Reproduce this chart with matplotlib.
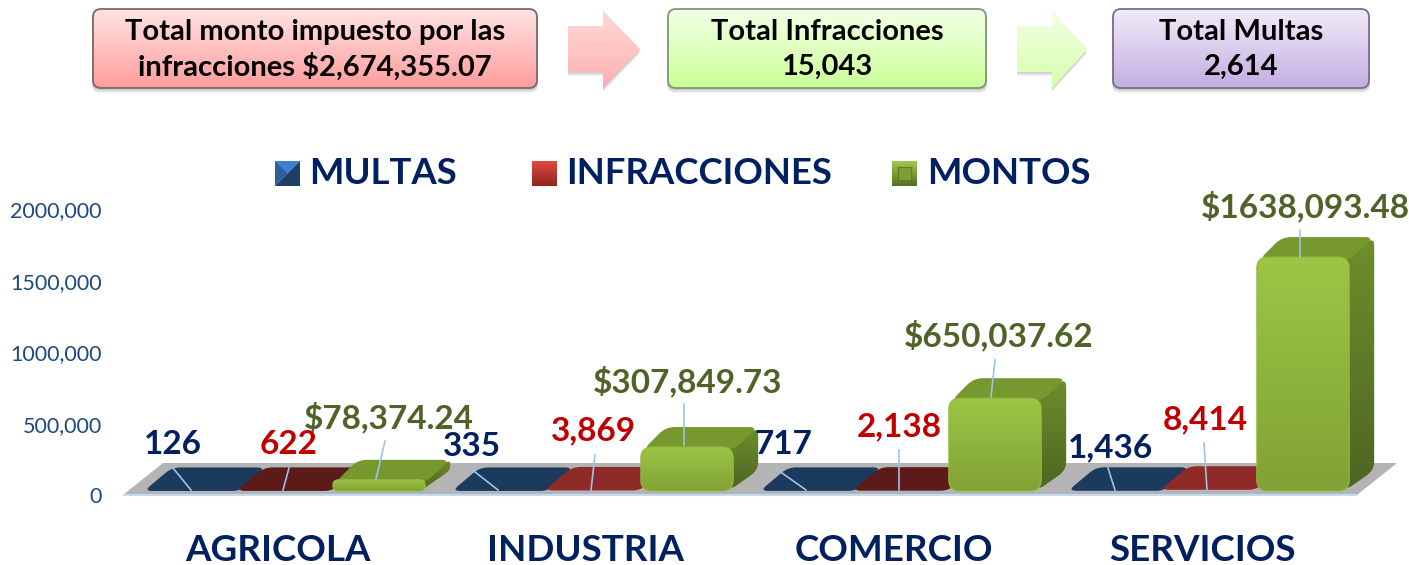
import numpy as np
import matplotlib
matplotlib.use('Agg')
from matplotlib import pyplot as plt
from matplotlib.colors import LinearSegmentedColormap
from matplotlib.patches import FancyBboxPatch, Polygon, PathPatch
from matplotlib.path import Path
from matplotlib.transforms import ScaledTranslation

# datos
categorias = ['AGRICOLA', 'INDUSTRIA', 'COMERCIO', 'SERVICIOS']
multas = [126, 335, 717, 1436]
infracciones = [622, 3869, 2138, 8414]
montos = [78374.24, 307849.73, 650037.62, 1638093.48]
montos_txt = ['$78,374.24', '$307,849.73', '$650,037.62', '$1638,093.48']
series = ['MULTAS', 'INFRACCIONES', 'MONTOS']
y_ticks = [0, 500000, 1000000, 1500000, 2000000]
y_labels = ['0', '500,000', '1000,000', '1500,000', '2000,000']

plt.rcParams['font.family'] = ['Lato', 'DejaVu Sans']

W = 1409; H = 565
AZUL = '#002060'; ROJO = '#c00000'; VERDE = '#4f6228'
rojos_top = ['#5c1a18', '#8e2a28', '#5c1a18', '#8e2a28']

fig = plt.figure(figsize=(W/100, H/100), dpi=100)

# eje del grafico: 308 px por grupo, 71.4 px por 500 mil
px_x = 308.0
px_y = 71.4/500000
x_cero = 286.6
y_cero = 491
ax_l = 120; ax_r = 1405; ax_t = 200; ax_b = 500
ax = fig.add_axes([ax_l/W, (H-ax_b)/H, (ax_r-ax_l)/W, (ax_b-ax_t)/H])
ax.set_xlim((ax_l-x_cero)/px_x, (ax_r-x_cero)/px_x)
ax.set_ylim((y_cero-ax_b)/px_y, (y_cero-ax_t)/px_y)
ax.patch.set_alpha(0)
for s in ax.spines.values():
    s.set_visible(False)
ax.tick_params(length=0)
ax.set_yticks(y_ticks)
ax.set_yticklabels(y_labels, fontsize=15.5, color='#1f497d')
ax.tick_params(axis='y', pad=13)
for lab in ax.get_yticklabels():
    lab.set_transform(lab.get_transform() + ScaledTranslation(0, -4/100, fig.dpi_scale_trans))
ax.set_xticks([i-0.028 for i in range(4)])
ax.set_xticklabels(categorias, fontsize=26.5, fontweight='bold', color=AZUL)
ax.tick_params(axis='x', pad=24.5)
limx = ax.get_xlim(); limy = ax.get_ylim()


def degradado(a, extent, c1, c2, clip, z):
    cm = LinearSegmentedColormap.from_list('g', [c1, c2])
    im = a.imshow(np.linspace(0, 1, 64).reshape(-1, 1), cmap=cm, extent=extent, origin='upper',
                  aspect='auto', zorder=z, interpolation='bilinear')
    im.set_clip_path(clip)


def dx(p):
    return p/px_x


def dy(p):
    return p/px_y


def redondeado(pts, r):
    # poligono con esquinas curvas, r en pixeles
    p = np.array(pts, dtype=float)*[px_x, px_y]
    n = len(p)
    v = []; c = []
    for i in range(n):
        a = p[i-1]; b = p[i]; d = p[(i+1) % n]
        l1 = np.linalg.norm(a-b); l2 = np.linalg.norm(d-b)
        q = min(r, l1/2, l2/2)
        p1 = b+(a-b)/max(l1, 1e-6)*q
        p2 = b+(d-b)/max(l2, 1e-6)*q
        v += [p1, b, p2]
        c += [Path.MOVETO if i == 0 else Path.LINETO, Path.CURVE3, Path.CURVE3]
    v.append(v[0]); c.append(Path.CLOSEPOLY)
    return Path(np.array(v)/[px_x, px_y], c)


# piso gris
ax.add_patch(Polygon([(dx(123-x_cero), dy(-4)), (dx(163-x_cero), dy(28)), (dx(1397-x_cero), dy(28)), (dx(1357-x_cero), dy(-4))],
                     closed=True, fc='#b4b4b4', ec='none', zorder=1))
ax.plot([dx(123-x_cero), dx(1357-x_cero)], [dy(-4), dy(-4)], color='#c5d9f1', lw=1.5, zorder=1, solid_capstyle='butt')

ancho = 92.4/px_x
prof_x = dx(25)
prof_y = dy(21)


def barra_plana(x, h, color, z):
    # barras casi sin altura: solo se ve la cara de arriba
    pts = [(x-dx(4), h), (x+prof_x-dx(1), h+dy(23.5)), (x+ancho+prof_x, h+dy(23.5)), (x+ancho, h)]
    ax.add_patch(PathPatch(redondeado(pts, 8), fc=color, ec='none', zorder=z))


def barra_verde(x, h, z):
    h_px = h*px_y
    r = min(11, h_px/2)
    # lateral
    lat = PathPatch(redondeado([(x+ancho-dx(5), dy(0)), (x+ancho+prof_x, prof_y),
                                (x+ancho+prof_x, h+prof_y-dy(1)), (x+ancho-dx(5), h-dy(1))], 9),
                    fc='#5f7d2a', ec='none', zorder=z)
    ax.add_patch(lat)
    degradado(ax, (x+ancho-dx(8), x+ancho+prof_x, 0, h+prof_y), '#6f8e2c', '#4d6521', lat, z+0.1)
    # tapa
    top = PathPatch(redondeado([(x+dx(2), h-dy(3)), (x+prof_x, h+prof_y-dy(1)),
                                (x+ancho+prof_x, h+prof_y-dy(1)), (x+ancho, h-dy(3))], 9),
                    fc='#77982f', ec='none', zorder=z+0.2)
    ax.add_patch(top)
    # frente
    fr = FancyBboxPatch((x, 0), ancho, h, boxstyle='round,pad=0,rounding_size=%f' % dx(r),
                        mutation_aspect=px_x/px_y, fc='none', ec='#93bb3f', lw=0.8, zorder=z+0.5)
    ax.add_patch(fr)
    degradado(ax, (x, x+ancho, 0, h), '#9cc645', '#81a235', fr, z+0.4)


off = [0, ancho, 2*ancho]
for i in range(4):
    x0 = i-1.5*ancho
    barra_plana(x0+off[0], multas[i], '#1c3a5e', 3+i)
    barra_plana(x0+off[1], infracciones[i], rojos_top[i], 3.2+i)
    barra_verde(x0+off[2], montos[i], 3.4+i)
ax.set_xlim(limx); ax.set_ylim(limy)

# capa en pixeles para cuadros, leyenda y etiquetas
ov = fig.add_axes([0, 0, 1, 1], zorder=5)
ov.set_xlim(0, W); ov.set_ylim(H, 0)
ov.axis('off')
ov.patch.set_alpha(0)


def cuadro(x0, x1, y0, y1, c1, c2, borde):
    for k in range(1, 6):
        ov.add_patch(FancyBboxPatch((x0-1, y0+k), x1-x0+2, y1-y0, boxstyle='round,pad=0,rounding_size=8',
                                    fc='black', ec='none', alpha=0.05, zorder=1))
    b = FancyBboxPatch((x0, y0), x1-x0, y1-y0, boxstyle='round,pad=0,rounding_size=8', fc=c2, ec=borde, lw=1.3, zorder=3)
    ov.add_patch(b)
    degradado(ov, (x0, x1, y1, y0), c1, c2, b, 2)
    b.set_facecolor('none')


def flecha(x0, x1, xm, y0, y1, s0, s1, c1, c2):
    pts = [(x0, s0), (xm, s0), (xm, y0), (x1, (y0+y1)/2), (xm, y1), (xm, s1), (x0, s1)]
    for k in range(1, 5):
        ov.add_patch(Polygon([(a, b+k) for a, b in pts], closed=True, fc='black', ec='none', alpha=0.05, zorder=1))
    p = Polygon(pts, closed=True, fc=c2, ec='none', zorder=2)
    ov.add_patch(p)
    degradado(ov, (x0, x1, y1, y0), c1, c2, p, 2.1)


cuadro(93, 537, 9, 88, '#ffe3e3', '#ff9d9d', '#7a6a6a')
cuadro(668, 986, 9, 88, '#f2ffe6', '#ccff99', '#7f9a70')
cuadro(1113, 1369, 9, 88, '#f1ebf8', '#c3aee2', '#77708a')
flecha(568, 640, 603, 11, 88, 26, 72, '#ffd9d9', '#ffb0b0')
flecha(1017, 1087, 1052, 11, 88, 26, 72, '#f2ffe6', '#d5ffaa')

kw = dict(ha='center', va='center', fontweight='bold', color='black', fontsize=21, zorder=6)
ov.text(315, 32, 'Total monto impuesto por las', **kw)
ov.text(315, 67, 'infracciones $2,674,355.07', **kw)
ov.text(827, 32, 'Total Infracciones', **kw)
ov.text(827, 67, '15,043', **kw)
ov.text(1241, 32, 'Total Multas', **kw)
ov.text(1241, 67, '2,614', **kw)

# leyenda
def marca_azul(x, y, s):
    ov.add_patch(Polygon([(x, y), (x+s, y), (x, y+s)], closed=True, fc='#3f7fd0', ec='none'))
    ov.add_patch(Polygon([(x+s, y), (x+s, y+s), (x, y+s)], closed=True, fc='#1f3f66', ec='none'))
    ov.add_patch(Polygon([(x, y), (x+s/2, y+s/2), (x, y+s)], closed=True, fc='#2f5f9a', ec='none'))


def marca_roja(x, y, s):
    p = Polygon([(x, y), (x+s, y), (x+s, y+s), (x, y+s)], closed=True, fc='#c0392f', ec='none')
    ov.add_patch(p)
    degradado(ov, (x, x+s, y+s, y), '#dd4a40', '#93231f', p, 2)


def marca_verde(x, y, s):
    p = Polygon([(x, y), (x+s, y), (x+s, y+s), (x, y+s)], closed=True, fc='#76962f', ec='none')
    ov.add_patch(p)
    degradado(ov, (x, x+s, y+s, y), '#a0c94a', '#566f24', p, 2)
    ov.add_patch(Polygon([(x+6, y+6), (x+s-6, y+6), (x+s-6, y+s-6), (x+6, y+s-6)], closed=True, fc='#7e9f34', ec='#5f7d2a', lw=0.8, zorder=3))


marca_azul(275, 161, 25)
marca_roja(532, 161, 25)
marca_verde(892, 161, 25)
for nom, xt in zip(series, [309, 566, 927]):
    ov.text(xt, 174, nom, ha='left', va='center', fontsize=26.3, fontweight='bold', color=AZUL, zorder=6)

# etiquetas de valores con su linea guia
pos_multas = [(173, 444), (472, 446), (783, 444), (1110, 448)]
pos_infr = [(289, 445), (594, 431), (899, 427), (1205, 420)]
pos_montos = [(389, 417), (688, 381), (999, 335), (1305, 206)]
lin_multas = [(173, 468, 191, 490), (470, 468, 498, 490), (775, 468, 806, 490), (1108, 468, 1115, 490)]
lin_infr = [(289, 468, 283, 490), (595, 455, 591, 490), (899, 450, 899, 490), (1204, 443, 1207, 490)]
lin_montos = [(385, 441, 376, 479), (684, 404, 684, 445), (995, 360, 991, 397), (1300, 230, 1300, 257)]
for i in range(4):
    tx = [('{:,}'.format(multas[i]), pos_multas[i], lin_multas[i], AZUL),
          ('{:,}'.format(infracciones[i]), pos_infr[i], lin_infr[i], ROJO),
          (montos_txt[i], pos_montos[i], lin_montos[i], VERDE)]
    for t, p, l, c in tx:
        ov.plot([l[0], l[2]], [l[1], l[3]], color='#9dc3e6', lw=1.2, zorder=6)
        ov.text(p[0], p[1], t, ha='center', va='center', fontsize=24, fontweight='bold', color=c, zorder=7)
ov.set_xlim(0, W); ov.set_ylim(H, 0)

fig.savefig('out.png', dpi=100)
